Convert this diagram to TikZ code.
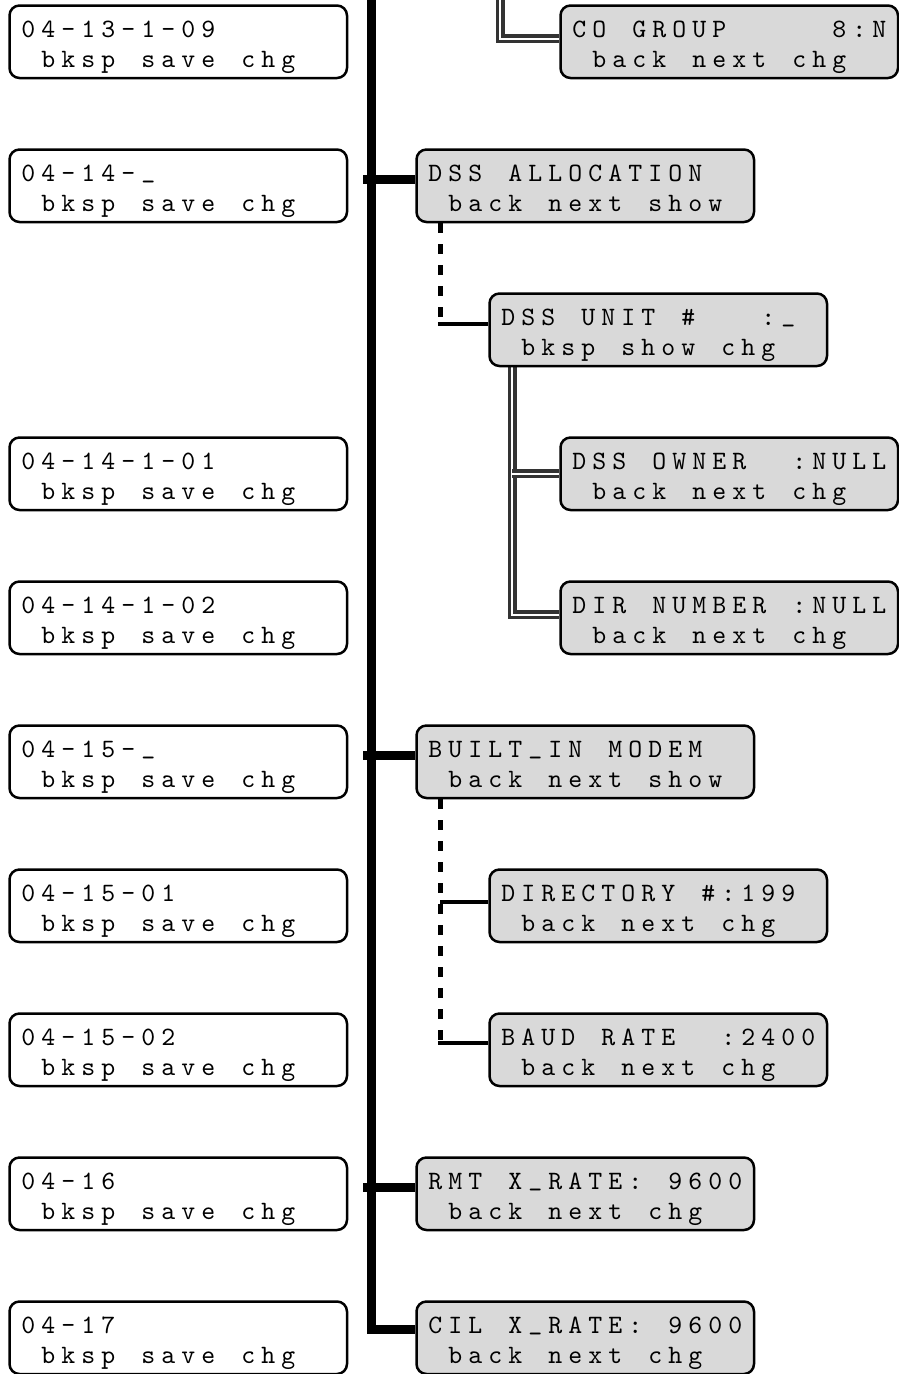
\documentclass[tikz,border=0pt]{standalone}
\usepackage{fontspec}
\newfontfamily\lcdfont{lmmono10-regular.otf}
\pgfdeclarelayer{bg}
\pgfsetlayers{bg,main}
% every character sits in a cell of fixed pitch, as on an LCD
\newcommand\lcdloop[1]{\ifx#1\relax\else\makebox[20pt][c]{#1}\expandafter\lcdloop\fi}
\newcommand\lt[2]{\rule{0pt}{27pt}\lcdloop#1\relax\\\rule[-6pt]{0pt}{6pt}\lcdloop#2\relax}
\newcommand\us{\raisebox{3pt}{\_}}
\tikzset{
  lcd/.style={draw, line width=2.5pt, rounded corners=10pt, anchor=north west,
    minimum width=337.5pt, minimum height=72.5pt, inner xsep=8.75pt, inner ysep=0pt,
    text width=320pt, align=left, font=\lcdfont\fontsize{26.5pt}{30pt}\selectfont},
  menu/.style={lcd, fill=black!15},
  keybox/.style={lcd, fill=white},
  trunk/.style={line width=9pt},
  dashv/.style={line width=5pt, dash pattern=on 10pt off 11pt},
  branch/.style={line width=4pt},
  dbl/.style={line width=3.4pt, double=white, double distance=2.2pt, draw=black!80}
}
\begin{document}
\begin{tikzpicture}[x=1pt,y=-1pt]
\useasboundingbox (0,0) rectangle (899,1374);
% left column
\node[keybox] (k1) at (8.25,4.25)    {\lt{04-13-1-09}{~bksp~save~chg}};
\node[keybox] (k2) at (8.25,148.25)  {\lt{04-14-\us}{~bksp~save~chg}};
\node[keybox] (k3) at (8.25,436.25)  {\lt{04-14-1-01}{~bksp~save~chg}};
\node[keybox] (k4) at (8.25,580.25)  {\lt{04-14-1-02}{~bksp~save~chg}};
\node[keybox] (k5) at (8.25,724.25)  {\lt{04-15-\us}{~bksp~save~chg}};
\node[keybox] (k6) at (8.25,868.25)  {\lt{04-15-01}{~bksp~save~chg}};
\node[keybox] (k7) at (8.25,1012.25) {\lt{04-15-02}{~bksp~save~chg}};
\node[keybox] (k8) at (8.25,1156.25) {\lt{04-16}{~bksp~save~chg}};
\node[keybox] (k9) at (8.25,1300.25) {\lt{04-17}{~bksp~save~chg}};
% right column
\node[menu] (co)    at (559.25,4.25)    {\lt{CO~GROUP~~~~~8:N}{~back~next~chg}};
\node[menu] (dss)   at (415.25,148.25)  {\lt{DSS~ALLOCATION}{~back~next~show}};
\node[menu] (unit)  at (488.25,292.25)  {\lt{DSS~UNIT~\#~~~:\us}{~bksp~show~chg}};
\node[menu] (owner) at (559.25,436.25)  {\lt{DSS~OWNER~~:NULL}{~back~next~chg}};
\node[menu] (dirn)  at (559.25,580.25)  {\lt{DIR~NUMBER~:NULL}{~back~next~chg}};
\node[menu] (modem) at (415.25,724.25)  {\lt{BUILT\us IN~MODEM}{~back~next~show}};
\node[menu] (dir)   at (488.25,868.25)  {\lt{DIRECTORY~\#:199}{~back~next~chg}};
\node[menu] (baud)  at (488.25,1012.25) {\lt{BAUD~RATE~~:2400}{~back~next~chg}};
\node[menu] (rmt)   at (415.25,1156.25) {\lt{RMT~X\us RATE:~9600}{~back~next~chg}};
\node[menu] (cil)   at (415.25,1300.25) {\lt{CIL~X\us RATE:~9600}{~back~next~chg}};
\begin{pgfonlayer}{bg}
  % trunk
  \coordinate (ttop) at (371,-5);
  \draw[trunk] (ttop) |- ([yshift=8pt]cil.west);
  \draw[trunk] ([yshift=6pt]dss.west) -- ++(-52,0);
  \draw[trunk] ([yshift=6pt]modem.west) -- ++(-52,0);
  \draw[trunk] ([yshift=6pt]rmt.west) -- ++(-52,0);
  % dashed branches
  \coordinate (d1) at ([xshift=25pt]dss.south west);
  \coordinate (c1) at (440.25,324);
  \draw[dashv] (d1) -- (c1);
  \draw[branch] ([xshift=-2.5pt]c1) -- (c1 -| unit.west);
  \coordinate (d2) at ([xshift=25pt]modem.south west);
  \coordinate (c2) at (440.25,902);
  \coordinate (c3) at (440.25,1043);
  \draw[dashv] (d2) -- (c3);
  \draw[branch] (c2) -- (c2 -| dir.west);
  \draw[branch] ([xshift=-2.5pt]c3) -- (c3 -| baud.west);
  % double branches
  \coordinate (e0) at (500,-5);
  \draw[dbl] (e0) |- ([yshift=3pt]co.west);
  \coordinate (e1) at ([xshift=24pt]unit.south west);
  \draw[dbl] (e1) |- ([yshift=3pt]dirn.west);
  \draw[dbl] (e1 |- owner.west) -- (owner.west);
\end{pgfonlayer}
\end{tikzpicture}
\end{document}
